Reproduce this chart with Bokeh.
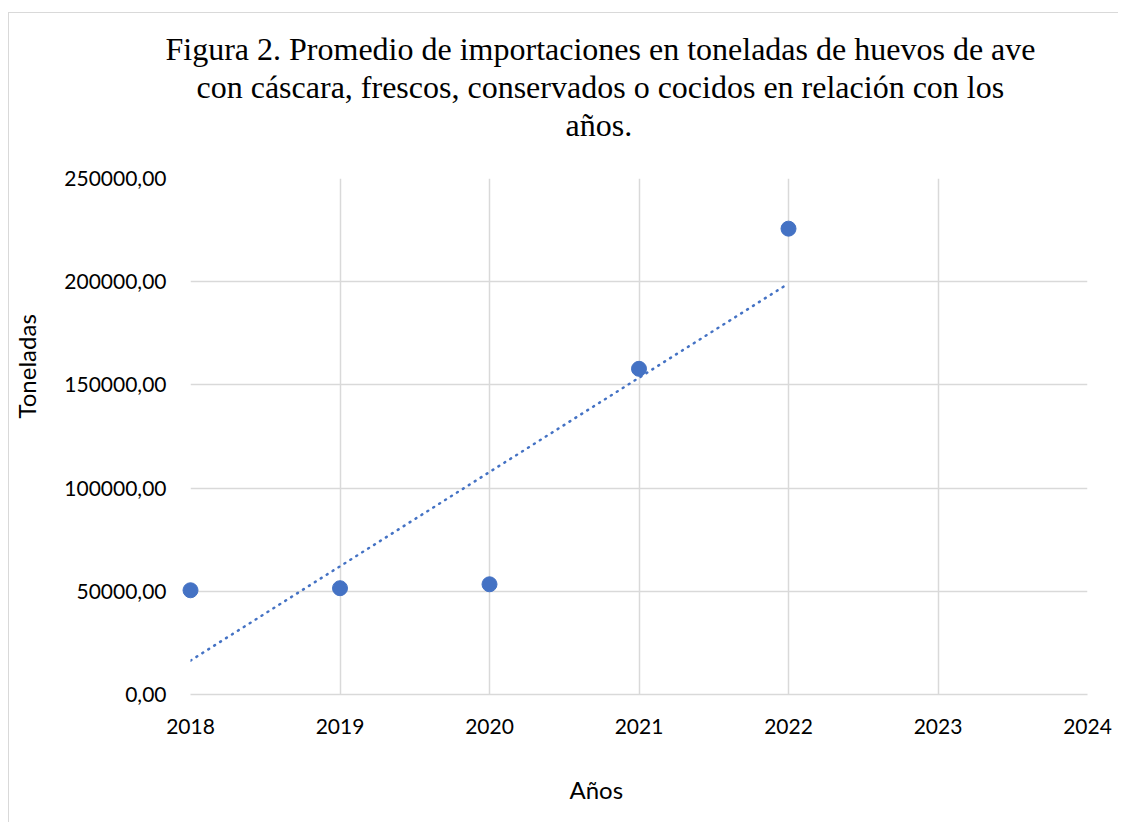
import numpy as np
from bokeh.plotting import figure
from bokeh.models import Range1d, FixedTicker, Title
from bokeh.embed import file_html
from bokeh.resources import INLINE

# ---- data ----
years = [2018, 2019, 2020, 2021, 2022]
toneladas = [50500, 51500, 53400, 157800, 225700]
x_ticks = [2018, 2019, 2020, 2021, 2022, 2023, 2024]
y_ticks = [0, 50000, 100000, 150000, 200000, 250000]
y_tick_labels = ["0,00", "50000,00", "100000,00", "150000,00", "200000,00", "250000,00"]
title_lines = [
    "Figura 2. Promedio de importaciones en toneladas de huevos de ave",
    "con cáscara, frescos, conservados o cocidos en  relación con los",
    "años.",
]
x_title = "Años"
y_title = "Toneladas"

BLUE = "#4472C4"
GRID = "#d9d9d9"
TICK_FONT = "Lato"
SERIF = "Liberation Serif"

p = figure(width=1110, height=810, output_backend="svg", toolbar_location=None,
           x_range=Range1d(x_ticks[0], x_ticks[-1]), y_range=Range1d(y_ticks[0], y_ticks[-1]),
           min_border_left=181, min_border_top=165, min_border_right=32,
           min_border_bottom=129, margin=(12, 0, 0, 8),
           styles={"border-left": "1px solid #d9d9d9", "border-top": "1px solid #d9d9d9"})
p.outline_line_color = None
p.background_fill_color = "white"
p.border_fill_color = "white"

p.xaxis.ticker = FixedTicker(ticks=x_ticks)
p.yaxis.ticker = FixedTicker(ticks=y_ticks)
p.yaxis.major_label_overrides = dict(zip(y_ticks, y_tick_labels))
p.xaxis.major_label_overrides = {t: str(t) for t in x_ticks}
for ax in (p.xaxis, p.yaxis):
    ax.major_tick_line_color = None
    ax.minor_tick_line_color = None
    ax.major_label_text_font = TICK_FONT
    ax.major_label_text_font_size = "21px"
    ax.major_label_text_color = "#000000"
p.yaxis.axis_line_color = None
p.xaxis.axis_line_color = GRID
p.xaxis.axis_line_width = 1.5
p.xaxis.major_label_standoff = 18
p.yaxis.major_label_standoff = 18

p.xgrid.ticker = FixedTicker(ticks=x_ticks)
p.ygrid.ticker = FixedTicker(ticks=y_ticks)
for g in (p.xgrid, p.ygrid):
    g.grid_line_color = GRID
    g.grid_line_width = 1.5

# trendline (linear least squares from the data)
slope, intercept = np.polyfit(np.array(years, dtype=float), np.array(toneladas, dtype=float), 1)
tx = [years[0], years[-1]]
ty = [slope * x + intercept for x in tx]
p.line(tx, ty, line_color=BLUE, line_width=2.5, line_dash="1 6", line_cap="round")

r = p.scatter(years, toneladas, size=15, fill_color=BLUE, line_color=BLUE)
r.level = "overlay"


def spacer(standoff, side):
    p.add_layout(Title(text=" ", standoff=standoff, text_font=SERIF,
                       text_font_size="10px"), side)


# chart title: spacer next to the plot area, then lines from the frame outward
spacer(23, "above")
title_offsets = [-25, 6, 375]
for txt, off in reversed(list(zip(title_lines, title_offsets))):
    p.add_layout(Title(text=txt, align="left", offset=off, standoff=0,
                       text_font=SERIF, text_font_size="32px",
                       text_font_style="normal", text_color="#000000"), "above")

# x axis title
spacer(23, "below")
p.add_layout(Title(text=x_title, align="left", offset=379, standoff=0,
                   text_font=TICK_FONT, text_font_size="24px", text_font_style="normal",
                   text_color="#000000"), "below")

# y axis title
spacer(8, "left")
p.add_layout(Title(text=y_title, align="left", offset=276, standoff=0,
                   text_font=TICK_FONT, text_font_size="24px", text_font_style="normal",
                   text_color="#000000"), "left")

open("out.html", "w").write(file_html(p, INLINE))
